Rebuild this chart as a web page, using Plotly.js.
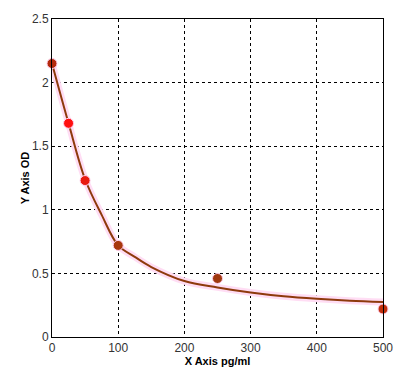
<!DOCTYPE html>
<html>
<head>
<meta charset="utf-8">
<script src="https://cdn.plot.ly/plotly-3.0.1.min.js"></script>
<style>html,body{margin:0;padding:0;background:#fff;}#chart{width:415px;height:375px;}</style>
</head>
<body>
<div id="chart"></div>
<script>
// Measured standard points
var concentrations = [0, 25, 50, 100, 250, 500];
var odValues = [2.15, 1.68, 1.23, 0.72, 0.46, 0.22];
var pointColors = ['#b42a0c', '#ff1010', '#e81a10', '#a8380e', '#a0380e', '#c0300c'];
// Fitted curve
var curveX = [0, 25, 50, 75, 100, 125, 150, 200, 250, 300, 350, 400, 450, 500];
var curveY = [2.15, 1.68, 1.24, 0.96, 0.72, 0.63, 0.55, 0.44, 0.39, 0.35, 0.32, 0.30, 0.285, 0.275];
var xTicks = [0, 100, 200, 300, 400, 500];
var yTicks = [0, 0.5, 1, 1.5, 2, 2.5];
var yTickText = ['0', '0.5', '1', '1.5', '2', '2.5'];

var traces = [
  {x: curveX, y: curveY, mode: 'lines', line: {color: '#ffddf4', width: 7, shape: 'spline'}, hoverinfo: 'skip'},
  {x: curveX, y: curveY, mode: 'lines', line: {color: '#8e3a0c', width: 2, shape: 'spline'}},
  {x: concentrations, y: odValues, mode: 'markers', marker: {size: 10, color: pointColors, line: {color: '#ffd0ee', width: 1}}, cliponaxis: false}
];
var axisFont = {family: 'Liberation Sans, Arial, sans-serif', size: 12, color: '#333'};
var layout = {
  width: 415, height: 375,
  margin: {l: 52, r: 32, t: 19, b: 38},
  paper_bgcolor: '#fff', plot_bgcolor: '#fff',
  showlegend: false,
  xaxis: {
    range: [0, 500], tickvals: xTicks, ticks: '', tickfont: axisFont,
    showline: true, linecolor: '#000', linewidth: 1, mirror: true,
    showgrid: true, gridcolor: '#000', griddash: '3px,3px', gridwidth: 1, zeroline: false,
    title: {text: '<b>X Axis pg/ml</b>', font: {family: 'Liberation Sans, Arial, sans-serif', size: 11, color: '#000'}, standoff: 2}
  },
  yaxis: {
    range: [0, 2.5], tickvals: yTicks, ticktext: yTickText, ticks: '', tickfont: axisFont,
    showline: true, linecolor: '#000', linewidth: 1, mirror: true,
    showgrid: true, gridcolor: '#000', griddash: '3px,3px', gridwidth: 1, zeroline: false,
    title: {text: '<b>Y Axis OD</b>', font: {family: 'Liberation Sans, Arial, sans-serif', size: 11, color: '#000'}, standoff: 0}
  }
};
Plotly.newPlot('chart', traces, layout, {displayModeBar: false, staticPlot: true});
</script>
</body>
</html>
